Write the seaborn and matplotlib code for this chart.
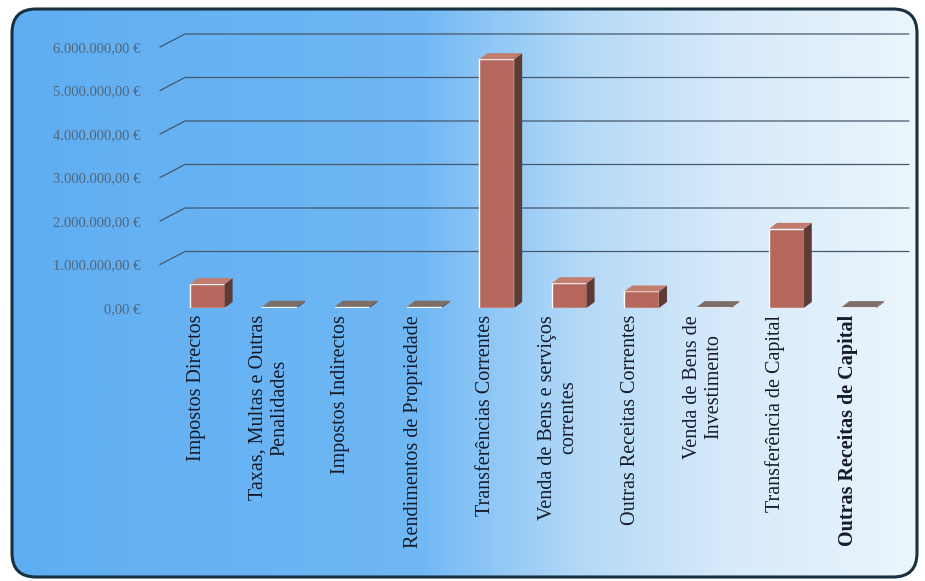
import numpy as np
import pandas as pd
import matplotlib
matplotlib.use("Agg")
import matplotlib.pyplot as plt
import seaborn as sns
from matplotlib.patches import FancyBboxPatch, Polygon
from matplotlib.lines import Line2D
from matplotlib.colors import LinearSegmentedColormap
from matplotlib.transforms import IdentityTransform, ScaledTranslation
from matplotlib.ticker import FuncFormatter

# Receitas por rubrica (euros)
categorias = [
    "Impostos Directos",
    "Taxas, Multas e Outras\nPenalidades",
    "Impostos Indirectos",
    "Rendimentos de Propriedade",
    "Transferências Correntes",
    "Venda de Bens e serviços\ncorrentes",
    "Outras Receitas Correntes",
    "Venda de Bens de\nInvestimento",
    "Transferência de Capital",
    "Outras Receitas de Capital",
]
receitas = [550000, 30000, 30000, 30000, 5720000, 570000, 380000, 20000, 1820000, 20000]
marcas_y = [0, 1000000, 2000000, 3000000, 4000000, 5000000, 6000000]

W, H = 925, 581
sns.set_theme(style="white")
plt.rcParams["font.family"] = ["Liberation Serif", "DejaVu Serif"]

fig = plt.figure(figsize=(W / 100, H / 100), dpi=100)
fig.patch.set_facecolor("white")

# Fundo em degradê com moldura arredondada
bg = fig.add_axes([0, 0, 1, 1])
bg.set_xlim(0, W)
bg.set_ylim(H, 0)
bg.axis("off")
moldura = FancyBboxPatch((12, 9), 905, 568, boxstyle="round,pad=0,rounding_size=24",
                         facecolor="none", edgecolor="#18303f", lw=2.2, zorder=3)
cmap = LinearSegmentedColormap.from_list(
    "fundo", [(0.0, "#5fadf2"), (0.45, "#70b8f4"), (0.63, "#b4d9f7"),
              (0.8, "#d8ebfa"), (1.0, "#ebf5fc")])
grad = np.linspace(0, 1, 512).reshape(1, -1)
im = bg.imshow(grad, cmap=cmap, extent=[12, 917, 577, 9], aspect="auto", zorder=1)
bg.add_patch(moldura)
im.set_clip_path(moldura)

# Eixo principal
ax = fig.add_axes([160 / W, 1 - 308 / H, 724 / W, 261 / H])
ax.set_facecolor("none")
df = pd.DataFrame({"Receita": categorias, "Valor": receitas})
sns.barplot(data=df, x="Receita", y="Valor", color="#b5675b", width=0.48,
            saturation=1, ax=ax, zorder=3)
ax.set_xlim(-0.5, 9.5)
ax.set_ylim(0, 6000000)
for s in ax.spines.values():
    s.set_visible(False)
ax.set_xlabel("")
ax.set_ylabel("")

def euro(v, pos):
    txt = f"{v:,.2f}".replace(",", "X").replace(".", ",").replace("X", ".")
    return f"{txt} €"

ax.set_yticks(marcas_y)
ax.yaxis.set_major_formatter(FuncFormatter(euro))
ax.tick_params(axis="y", length=0, pad=14, labelsize=10.5, labelcolor="#52667a")
ax.tick_params(axis="x", length=0, pad=5)
ax.set_xticks(range(len(categorias)))
ax.set_xticklabels(categorias, rotation=90, ha="center", va="top",
                   multialignment="center", fontsize=14.5, color="#161a2a")
ax.get_xticklabels()[-1].set_fontweight("bold")

# Linhas de grelha na parede do fundo (perspectiva)
ident = IdentityTransform()
x_esq = ax.transAxes.transform((0, 0))[0]
x_dir = ax.transAxes.transform((1, 0))[0]
prof_x, prof_y = 25, 13
for t in marcas_y[1:]:
    y = ax.transData.transform((0, t))[1]
    ax.add_line(Line2D([x_esq, x_esq + prof_x, x_dir + prof_x],
                       [y, y + prof_y, y + prof_y], transform=ident,
                       color="#45586c", lw=0.9, zorder=1, clip_on=False))

# Barras com faces laterais e de topo
desl = 11
dx, dy = 8, 6
for p in ax.patches:
    p.set_transform(ax.transData + ScaledTranslation(desl / 100, 0, fig.dpi_scale_trans))
    x0, x1, h = p.get_x(), p.get_x() + p.get_width(), p.get_height()
    X0, Y0 = ax.transData.transform((x0, 0))
    X1, Yh = ax.transData.transform((x1, h))
    X0 += desl
    X1 += desl
    lado = Polygon([(X1, Y0), (X1 + dx, Y0 + dy), (X1 + dx, Yh + dy), (X1, Yh)],
                   closed=True, transform=ident, facecolor="#5e3b34",
                   edgecolor="none", zorder=3.5, clip_on=False)
    cor_topo = "#7d6f68" if h < 100000 else "#c27d6e"
    topo = Polygon([(X0, Yh), (X1, Yh), (X1 + dx, Yh + dy), (X0 + dx, Yh + dy)],
                   closed=True, transform=ident, facecolor=cor_topo,
                   edgecolor="none", zorder=3.6, clip_on=False)
    ax.add_patch(lado)
    ax.add_patch(topo)

fig.savefig("out.png", dpi=100, facecolor="white")
